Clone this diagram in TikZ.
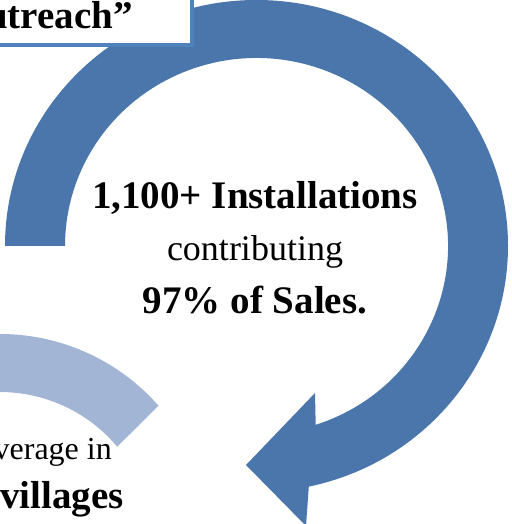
\documentclass[tikz,border=0pt]{standalone}
\usepackage{fontspec}
\setmainfont{Liberation Serif}
\definecolor{arrowblue}{HTML}{4A76AC}
\definecolor{lightarc}{HTML}{A2B5D5}
\definecolor{boxblue}{HTML}{4F81BD}
\begin{document}
\begin{tikzpicture}[x=1pt,y=1pt,
  boldtext/.style={font=\fontsize{39}{46}\selectfont\bfseries, inner sep=0pt, anchor=base},
  regtext/.style={font=\fontsize{36}{42}\selectfont, inner sep=0pt, anchor=base}]
\useasboundingbox (0,0) rectangle (511,524);
\clip (0,0) rectangle (511,524);
% light arc (part of another circular arrow)
\fill[lightarc] ([shift={(0,-21)}]120:211) arc[start angle=120,end angle=41.3,radius=211]
  -- (117.2,77.3) arc[start angle=40,end angle=120,radius=153] -- cycle;
% big circular arrow
\fill[arrowblue] (5,278) arc[start angle=180,end angle=-78,x radius=251.5,y radius=246]
  -- (306,-2) -- (246,59) -- (315,131) -- (315.7,99.2)
  arc[start angle=-72,end angle=180,x radius=191.5,y radius=188] -- cycle;
% top-left box
\draw[boxblue, line width=4.5pt, fill=white] (-20,479) rectangle (192,560);
\node[boldtext, anchor=base east] (title) at (133,495.7) {utreach”};
% centre text
\node[boldtext] (l1) at (255,315) {1,100+ Installations};
\node[regtext] (l2) at (255,263) {contributing};
\node[boldtext] (l3) at (255,210) {97\% of Sales.};
% bottom-left text
\node[regtext, font=\fontsize{32}{38}\selectfont, anchor=base east] (l4) at (112,64) {verage in};
\node[boldtext, anchor=base east] (l5) at (124,16) {villages};
\end{tikzpicture}
\end{document}
